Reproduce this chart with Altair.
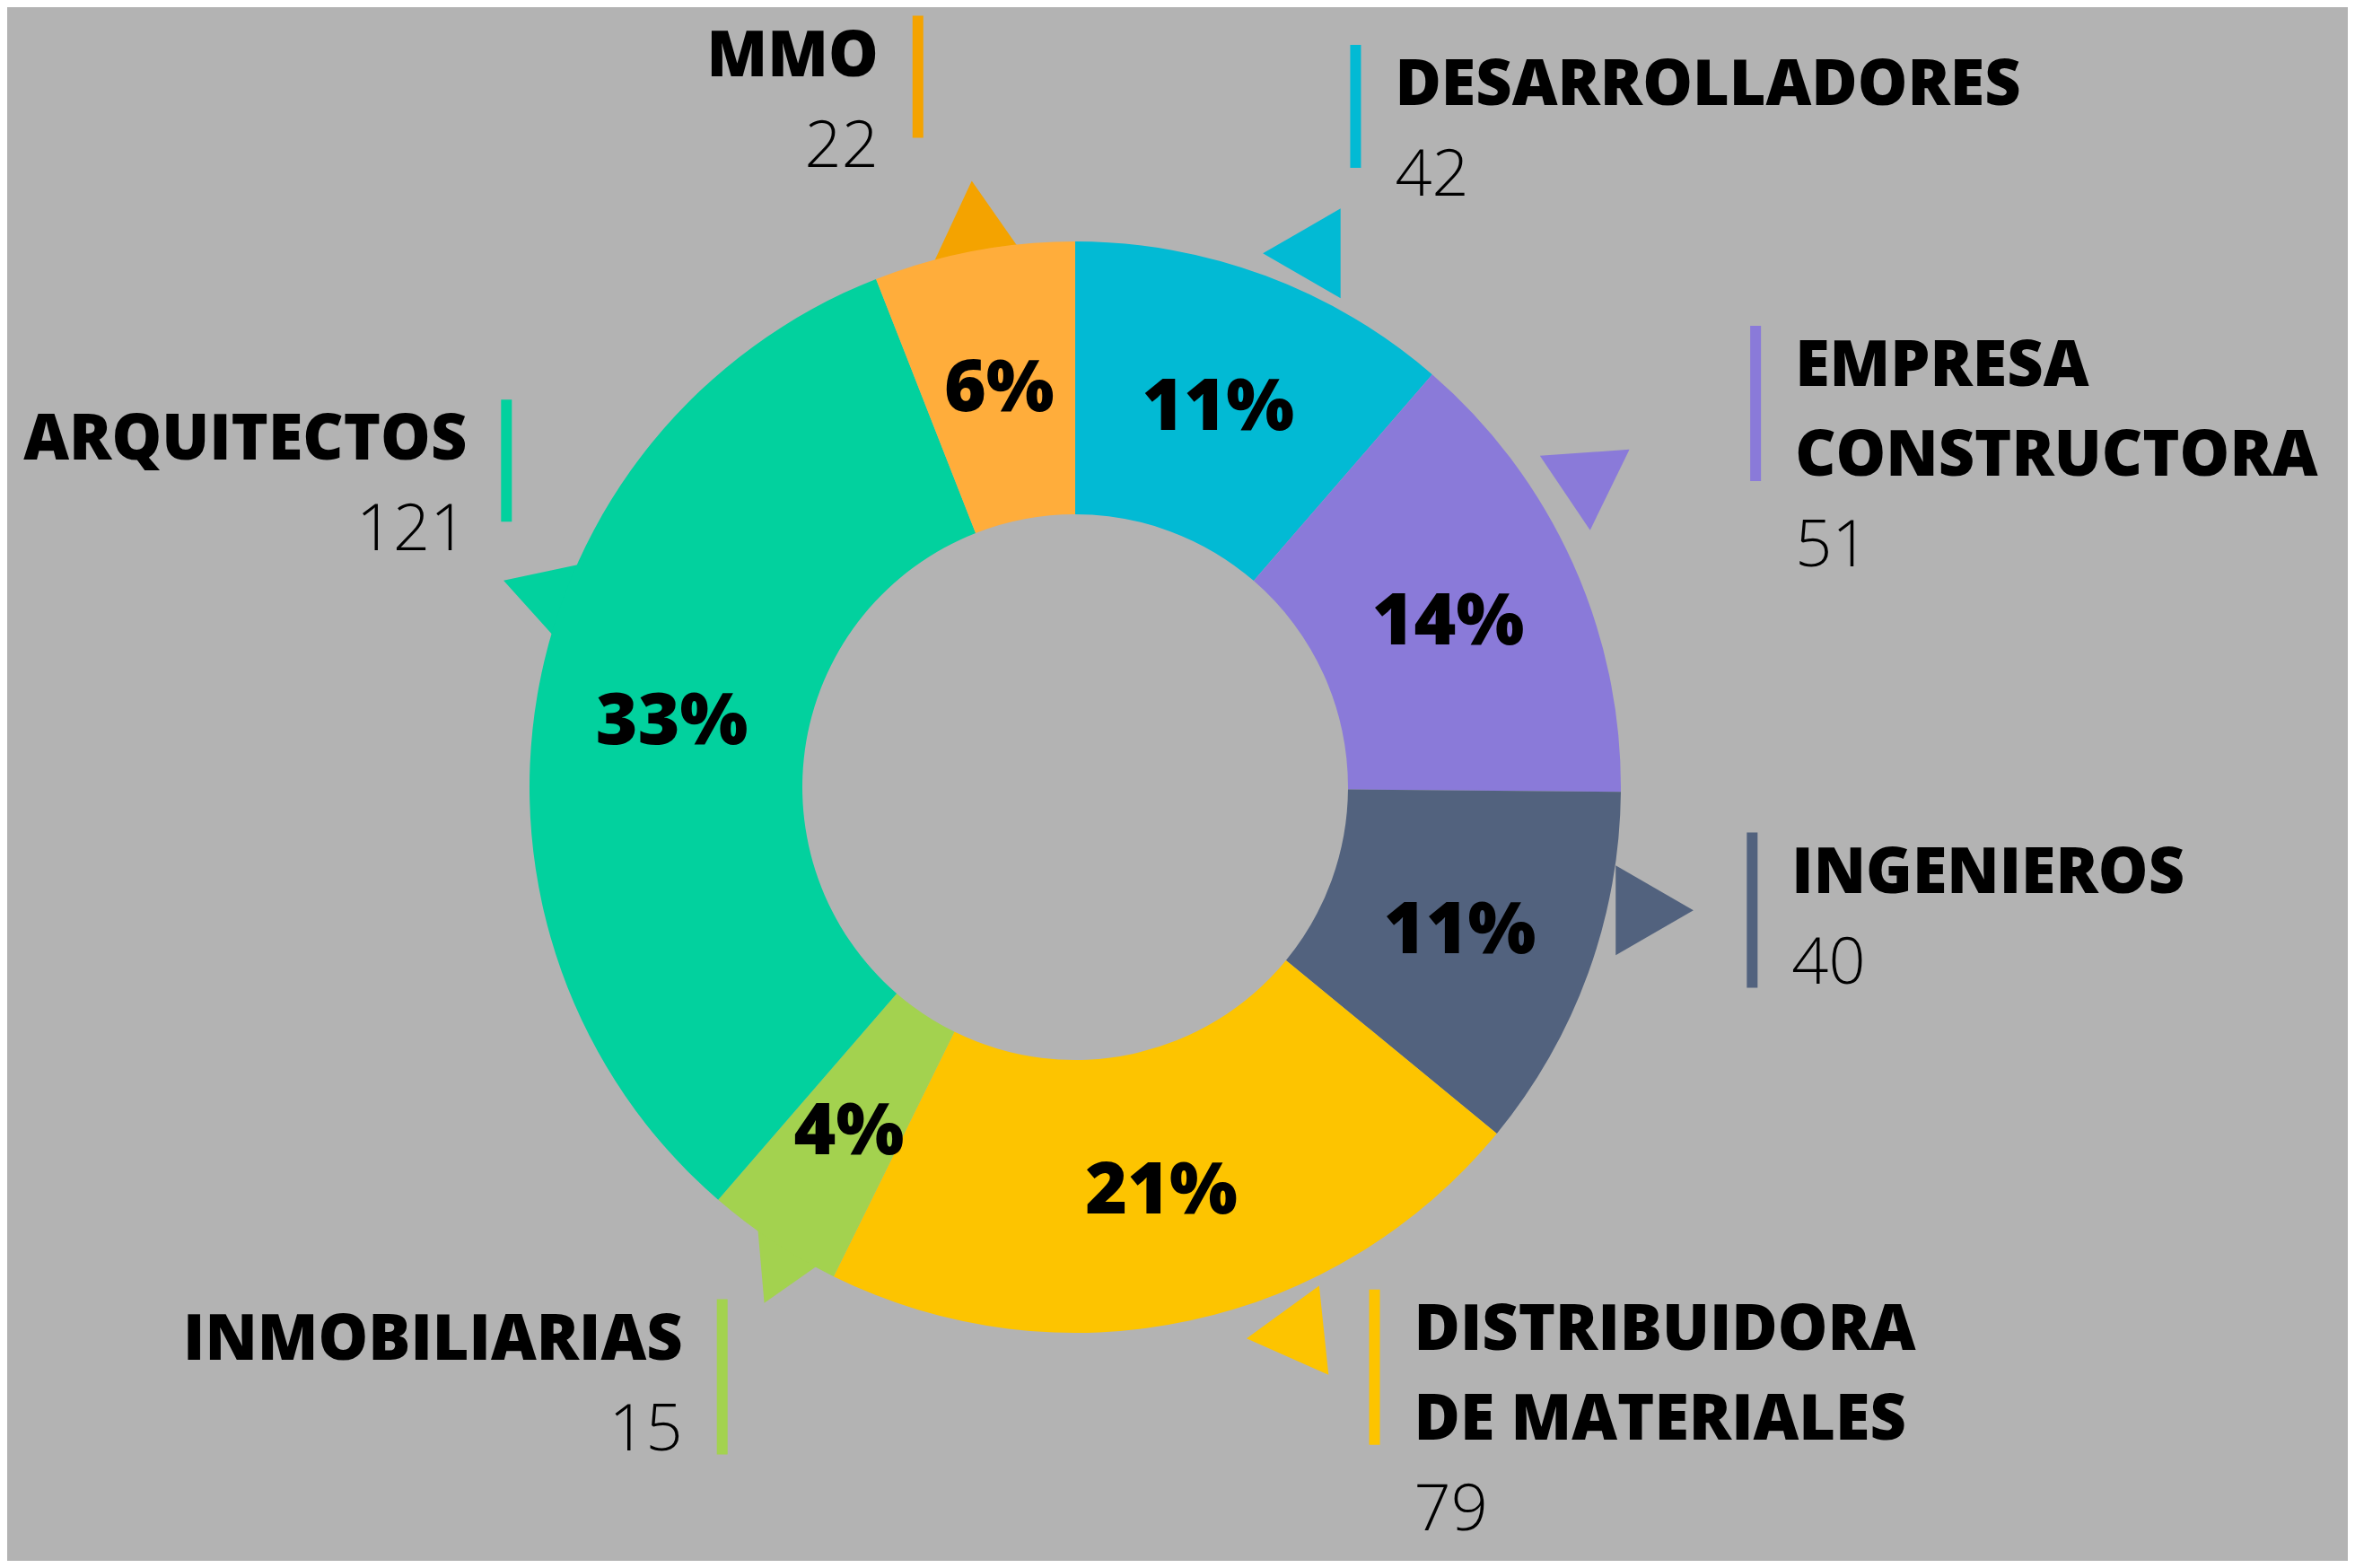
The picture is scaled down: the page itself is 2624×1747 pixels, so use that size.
import altair as alt
import pandas as pd

# ---- data ----
categories = ["DESARROLLADORES", "EMPRESA\nCONSTRUCTORA", "INGENIEROS",
              "DISTRIBUIDORA\nDE MATERIALES", "INMOBILIARIAS", "ARQUITECTOS", "MMO"]
counts = [42, 51, 40, 79, 15, 121, 22]

# ---- styles ----
ring_colors = ["#02bad4", "#8a7ad9", "#52627e", "#fdc400", "#a3d24f", "#02d19e", "#ffad3b"]
accent_colors = ["#02bad4", "#8a7ad9", "#52627e", "#fdc400", "#a3d24f", "#02d19e", "#f4a300"]

# ---- layout (polar, degrees clockwise from 12 o'clock; radii in px) ----
marker_deg = [23, 60, 102, 159, 211.5, 290, -10]
marker_r = [646, 659, 660, 653, 628, 634, 642]
marker_rot = [270, 176, 90, 264, 205, 288, 355]
label_deg = [21.7, 58.1, 97.0, 151.0, 212.7, 301.6, -12.1]
label_r = [845, 893, 760, 688, 728, 744, 836]
bar_len = [137, 173, 173, 173, 173, 136, 136]

W, H = 2608, 1731
CX, CY = 1190, 869
R_OUT, R_IN = 608, 304
R_PCT = 456
FONT = "Open Sans"

df = pd.DataFrame({
    "idx": list(range(len(categories))),
    "cat": categories,
    "count": counts,
    "ring": ring_colors,
    "acc": accent_colors,
    "mdeg": marker_deg,
    "mr": marker_r,
    "mrot": marker_rot,
    "ldeg": label_deg,
    "lr": label_r,
    "barlen": bar_len,
    "nlines": [c.count("\n") + 1 for c in categories],
})

xs = alt.Scale(domain=[-CX, W - CX], nice=False, zero=False)
ys = alt.Scale(domain=[-(H - CY), CY], nice=False, zero=False)

base = alt.Chart(df).transform_joinaggregate(
    total="sum(count)"
).transform_window(
    cum="sum(count)", sort=[alt.SortField("idx")], frame=[None, 0]
).transform_calculate(
    cx="0",
    cy="0",
    mid="2*PI*(datum.cum - datum.count/2)/datum.total",
    pct="format(datum.count/datum.total, '.0%')",
).transform_calculate(
    px=f"{R_PCT}*sin(datum.mid)",
    py=f"{R_PCT}*cos(datum.mid)",
    tx="datum.mr*sin(datum.mdeg*PI/180)",
    ty="datum.mr*cos(datum.mdeg*PI/180)",
    lx="datum.lr*sin(datum.ldeg*PI/180)",
    ly="datum.lr*cos(datum.ldeg*PI/180)",
).transform_calculate(
    side="datum.lx >= 0 ? 1 : -1",
    txt_x="datum.lx + (datum.lx >= 0 ? 44 : -44)",
    bar_y1="datum.ly + 42",
    bar_y2="datum.ly + 42 - datum.barlen",
    num_y="datum.ly - 100*(datum.nlines-1) - 100",
)

X = lambda f: alt.X(f"{f}:Q", scale=xs, axis=None)
Y = lambda f: alt.Y(f"{f}:Q", scale=ys, axis=None)

triangles = base.mark_point(
    shape="triangle-up", filled=True, size=10000, opacity=1, strokeWidth=0
).encode(
    x=X("tx"), y=Y("ty"),
    angle=alt.Angle("mrot:Q", scale=None),
    color=alt.Color("acc:N", scale=None),
)

arcs = base.mark_arc(outerRadius=R_OUT, innerRadius=R_IN).encode(
    x=X("cx"), y=Y("cy"),
    theta=alt.Theta("count:Q", stack=True),
    order=alt.Order("idx:Q"),
    color=alt.Color("ring:N", scale=None),
)

pct = base.mark_text(
    font=FONT, fontSize=80, fontWeight=800, color="#000000",
    align="center", baseline="middle", dy=5
).encode(x=X("px"), y=Y("py"), text="pct:N")

bars = base.mark_rule(strokeWidth=12).encode(
    x=X("lx"), y=Y("bar_y1"), y2="bar_y2:Q",
    color=alt.Color("acc:N", scale=None),
)

name_right = base.transform_filter("datum.side > 0").mark_text(
    font=FONT, fontSize=70, fontWeight=800, color="#000000",
    align="left", baseline="top", dy=-30, lineBreak="\n", lineHeight=100
).encode(x=X("txt_x"), y=Y("ly"), text="cat:N")

name_left = base.transform_filter("datum.side < 0").mark_text(
    font=FONT, fontSize=70, fontWeight=800, color="#000000",
    align="right", baseline="top", dy=-30, lineBreak="\n", lineHeight=100
).encode(x=X("txt_x"), y=Y("ly"), text="cat:N")

num_right = base.transform_filter("datum.side > 0").mark_text(
    font=FONT, fontSize=72, fontWeight=300, color="#000000",
    align="left", baseline="middle", dy=4
).encode(x=X("txt_x"), y=Y("num_y"), text="count:Q")

num_left = base.transform_filter("datum.side < 0").mark_text(
    font=FONT, fontSize=72, fontWeight=300, color="#000000",
    align="right", baseline="middle", dy=4
).encode(x=X("txt_x"), y=Y("num_y"), text="count:Q")

chart = alt.layer(
    triangles, arcs, pct, bars, name_right, name_left, num_right, num_left
).properties(
    width=W, height=H,
    background="#b3b3b3",
    padding=0,
    autosize=alt.AutoSizeParams(type="none"),
).configure_view(stroke=None)

chart.save("out.html", embed_options={"renderer": "svg", "actions": False})
